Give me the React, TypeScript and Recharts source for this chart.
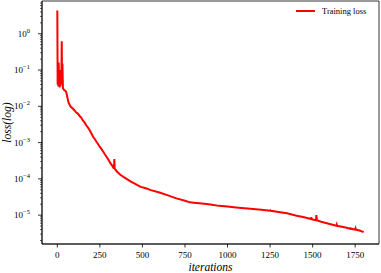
import React from "react";
import { Line, LineChart, ReferenceArea, XAxis, YAxis } from "recharts";

// iteration index and loss
const iterations = [
  0, 2, 4, 6, 8, 10, 12, 14, 16, 18, 20, 22, 24, 26, 28, 30, 33, 36, 40, 45,
  50, 55, 60, 65, 70, 80, 90, 100, 110, 120, 130, 140, 150, 160, 170, 180, 190,
  200, 210, 220, 230, 240, 250, 260, 270, 280, 290, 300, 310, 320, 330, 333,
  335, 337, 350, 370, 400, 430, 460, 490, 520, 550, 600, 650, 700, 750, 780,
  800, 850, 900, 950, 1000, 1050, 1100, 1150, 1200, 1250, 1252, 1254, 1300,
  1350, 1400, 1450, 1490, 1492, 1494, 1500, 1520, 1522, 1525, 1550, 1600, 1640,
  1642, 1644, 1650, 1700, 1720, 1722, 1724, 1750, 1752, 1754, 1780, 1800,
];
const trainingLoss = [
  4.4, 0.04, 0.12, 0.035, 0.16, 0.04, 0.09, 0.033, 0.07, 0.036, 0.1, 0.04,
  0.06, 0.62, 0.045, 0.15, 0.032, 0.03, 0.028, 0.027, 0.026, 0.022, 0.017,
  0.013, 0.0115, 0.0095, 0.0088, 0.0078, 0.0068, 0.0063, 0.0055, 0.0049,
  0.0041, 0.0036, 0.003, 0.0026, 0.0022, 0.0018, 0.00145, 0.00125, 0.00105,
  0.0009, 0.00076, 0.00066, 0.00056, 0.00047, 0.0004, 0.00034, 0.00028,
  0.00024, 0.0002, 0.0002, 0.00035, 0.00019, 0.00016, 0.00013, 0.000105,
  0.000085, 0.000072, 0.00006, 0.000055, 0.000049, 0.000042, 0.000035,
  0.000029, 0.000025, 0.0000225, 0.000022, 0.000021, 0.0000195, 0.000018,
  0.0000172, 0.0000163, 0.0000155, 0.0000148, 0.000014, 0.0000132, 0.0000135,
  0.0000132, 0.0000122, 0.0000112, 0.0000098, 0.0000087, 0.0000078, 0.0000088,
  0.0000078, 0.0000076, 0.0000072, 0.00001, 0.0000072, 0.0000066, 0.0000057,
  0.0000051, 0.0000055, 0.0000051, 0.000005, 0.0000045, 0.0000042, 0.0000046,
  0.0000042, 0.000004, 0.0000043, 0.000004, 0.0000037, 0.0000034,
];

const xTicks = [0, 250, 500, 750, 1000, 1250, 1500, 1750];
const yDecades = [1, 0.1, 0.01, 0.001, 0.0001, 0.00001];
const X_DOMAIN = [-90, 1890];
const Y_DOMAIN = [1.6e-6, 8];

const data = iterations.map((iter, i) => ({ iter, loss: trainingLoss[i] }));

// minor log ticks 2..9 x 10^k inside the visible range
const yMinor: number[] = [];
for (let e = -6; e <= 0; e++) {
  for (let m = 2; m <= 9; m++) {
    const v = m * Math.pow(10, e);
    if (v > Y_DOMAIN[0] && v < Y_DOMAIN[1]) yMinor.push(v);
  }
}
const yTicks = [...yDecades, ...yMinor];

const FONT = "'Liberation Serif', serif";

function XTick(props: any) {
  const { x, y, payload } = props;
  return (
    <g>
      <line x1={x} x2={x} y1={y} y2={y + 3.5} stroke="#000" strokeWidth={0.8} />
      <text x={x} y={y + 14} textAnchor="middle" fontSize={9} fontFamily={FONT} fill="#000">
        {payload.value}
      </text>
    </g>
  );
}

function YTick(props: any) {
  const { x, y, payload } = props;
  const lg = Math.log10(payload.value);
  const major = Math.abs(lg - Math.round(lg)) < 1e-6;
  if (!major) {
    return <line x1={x - 2} x2={x} y1={y} y2={y} stroke="#000" strokeWidth={0.6} />;
  }
  const e = Math.round(lg);
  return (
    <g>
      <line x1={x - 4} x2={x} y1={y} y2={y} stroke="#000" strokeWidth={0.8} />
      <text x={x - 12} y={y + 3} textAnchor="end" fontSize={9} fontFamily={FONT} fill="#000">
        10
        <tspan dy={-4} fontSize={6.5}>
          {e < 0 ? "\u2212" + Math.abs(e) : String(e)}
        </tspan>
      </text>
    </g>
  );
}

export default function App() {
  return (
    <div style={{ position: "absolute", left: 0, top: 0, width: 381, height: 273, background: "#fff" }}>
      <LineChart width={381} height={273} data={data} margin={{ top: 1, right: 2, left: 0, bottom: 0 }}>
        <XAxis
          dataKey="iter"
          type="number"
          domain={X_DOMAIN}
          allowDataOverflow
          ticks={xTicks}
          interval={0}
          height={29}
          tickSize={0}
          tickMargin={0}
          tickLine={false}
          axisLine={{ stroke: "#000", strokeWidth: 0.8 }}
          tick={<XTick />}
          label={{
            content: (p: any) => {
              const vb = p.viewBox;
              return (
                <text
                  x={vb.x + vb.width / 2}
                  y={vb.y + 27}
                  textAnchor="middle"
                  fontSize={11.5}
                  fontStyle="italic"
                  fontFamily={FONT}
                  fill="#000"
                >
                  iterations
                </text>
              );
            },
          }}
        />
        <YAxis
          dataKey="loss"
          scale="log"
          type="number"
          domain={Y_DOMAIN}
          allowDataOverflow
          ticks={yTicks}
          interval={0}
          width={42}
          tickSize={0}
          tickMargin={0}
          tickLine={false}
          axisLine={{ stroke: "#000", strokeWidth: 0.8 }}
          tick={<YTick />}
          label={{
            content: (p: any) => {
              const vb = p.viewBox;
              const cx = vb.x + 10.5;
              const cy = vb.y + vb.height / 2;
              return (
                <text
                  x={cx}
                  y={cy}
                  transform={`rotate(-90 ${cx} ${cy})`}
                  textAnchor="middle"
                  fontSize={11.5}
                  fontStyle="italic"
                  fontFamily={FONT}
                  fill="#000"
                >
                  loss(log)
                </text>
              );
            },
          }}
        />
        {/* full frame like matplotlib's spines */}
        <ReferenceArea
          x1={X_DOMAIN[0]}
          x2={X_DOMAIN[1]}
          y1={Y_DOMAIN[0]}
          y2={Y_DOMAIN[1]}
          fill="none"
          fillOpacity={0}
          stroke="#000"
          strokeWidth={0.8}
          strokeOpacity={1}
          ifOverflow="visible"
        />
        <Line
          dataKey="loss"
          name="Training loss"
          type="linear"
          stroke="#ff0000"
          strokeWidth={2}
          dot={false}
          isAnimationActive={false}
        />
      </LineChart>
      {/* legend, top right inside the axes */}
      <svg width={381} height={20} style={{ position: "absolute", left: 0, top: 0 }}>
        <line x1={296} x2={315} y1={11} y2={11} stroke="#ff0000" strokeWidth={2} />
        <text x={322} y={13.5} fontSize={8.5} fontFamily={FONT} fill="#000">
          Training loss
        </text>
      </svg>
    </div>
  );
}
